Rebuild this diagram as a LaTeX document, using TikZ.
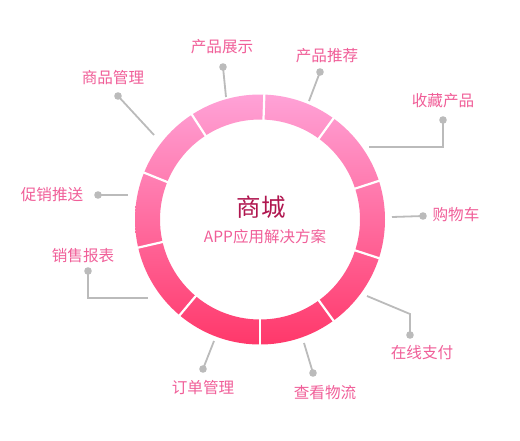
\documentclass[tikz,border=0pt]{standalone}
\usepackage{fontspec}
\newfontfamily\cjk{Noto Sans CJK SC}
\usetikzlibrary{calc}

\definecolor{ringtop}{HTML}{FFA2D7}
\definecolor{ringbot}{HTML}{FF386A}
\definecolor{labelpink}{HTML}{F05E98}
\definecolor{titlered}{HTML}{B0164F}
\definecolor{leadgray}{HTML}{BBBBBB}

\begin{document}
\begin{tikzpicture}[x=1pt, y=-1pt,
  every node/.style={font=\cjk\fontsize{15.6}{15.6}\selectfont, text=labelpink, inner sep=0pt},
  leader/.style={leadgray, line width=1.8pt}]

\useasboundingbox (0,0) rectangle (520,440);

% ============================
% Ring
% ============================
\coordinate (c) at (260,219.5);

\shade[top color=ringtop, bottom color=ringbot, even odd rule]
  (c) circle (125pt) (c) circle (100pt);

\foreach \a in {88,54,18,-18,-54,-90,-130,-167,158,123}{
  \draw[white, line width=2.2pt] ($(c)+(\a:97pt)$) -- ($(c)+(\a:128pt)$);
}

% ============================
% Centre text
% ============================
\node[text=titlered, font=\cjk\fontsize{24.5}{24.5}\selectfont] (title) at (261,207) {商城};
\node[font=\cjk\fontsize{15.5}{15.5}\selectfont] (subtitle) at (265,237) {APP应用解决方案};

% ============================
% Leader points
% ============================
\coordinate (dShow) at (223,67);   \coordinate (eShow) at (226,97);
\coordinate (dGoods) at (118,96);  \coordinate (eGoods) at (154,135);
\coordinate (dRec) at (320,72);    \coordinate (eRec) at (309,101);
\coordinate (dFav) at (443,120);   \coordinate (bFav) at (443,147);  \coordinate (eFav) at (369,147);
\coordinate (dPromo) at (98,195);  \coordinate (ePromo) at (128,195);
\coordinate (dRep) at (88,271);    \coordinate (bRep) at (88,298);   \coordinate (eRep) at (148,298);
\coordinate (dCart) at (423,216);  \coordinate (eCart) at (392,217);
\coordinate (dPay) at (410,335);   \coordinate (bPay) at (410,314);  \coordinate (ePay) at (367,296);
\coordinate (dOrder) at (203,369); \coordinate (eOrder) at (214,341);
\coordinate (dShip) at (313,373);  \coordinate (eShip) at (304,343);

\draw[leader] (dShow)--(eShow);
\draw[leader] (dGoods)--(eGoods);
\draw[leader] (dRec)--(eRec);
\draw[leader] (dFav)--(bFav)--(eFav);
\draw[leader] (dPromo)--(ePromo);
\draw[leader] (dRep)--(bRep)--(eRep);
\draw[leader] (dCart)--(eCart);
\draw[leader] (dPay)--(bPay)--(ePay);
\draw[leader] (dOrder)--(eOrder);
\draw[leader] (dShip)--(eShip);

\foreach \pt in {dShow,dGoods,dRec,dFav,dPromo,dRep,dCart,dPay,dOrder,dShip}{
  \fill[leadgray] (\pt) circle (3.8pt);
}

% ============================
% Labels
% ============================
\node (tShow)  at (222,47)  {产品展示};
\node (tGoods) at (113,78)  {商品管理};
\node (tRec)   at (327,56)  {产品推荐};
\node (tFav)   at (443,101) {收藏产品};
\node (tPromo) at (52,195)  {促销推送};
\node (tRep)   at (83,256)  {销售报表};
\node (tCart)  at (456,215) {购物车};
\node (tPay)   at (422,353) {在线支付};
\node (tOrder) at (203,388) {订单管理};
\node (tShip)  at (325,393) {查看物流};

\end{tikzpicture}
\end{document}
